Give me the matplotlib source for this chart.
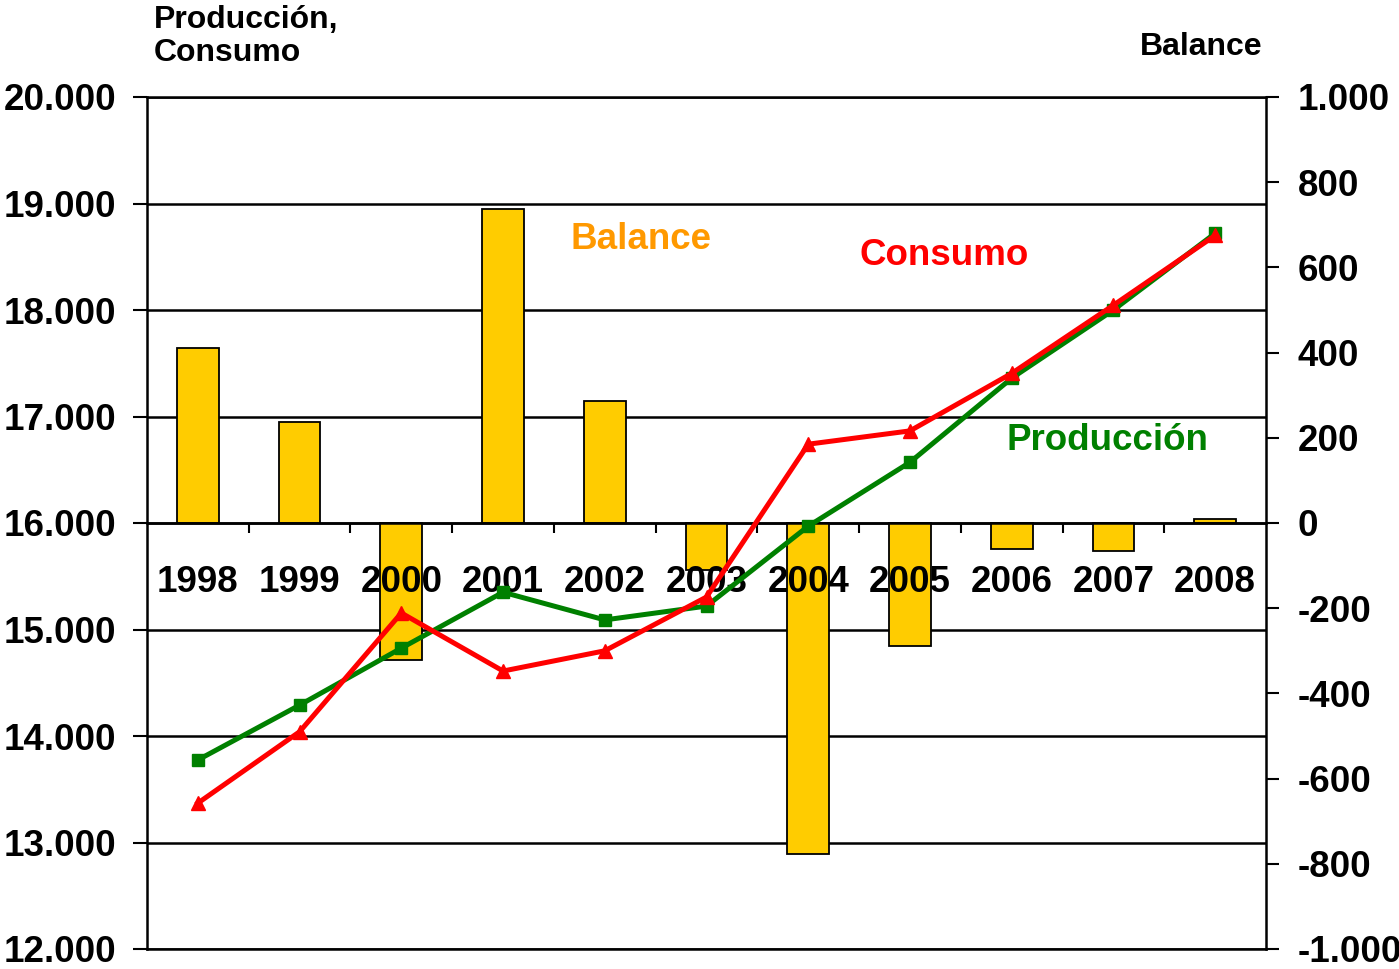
import numpy as np
import matplotlib
matplotlib.use("Agg")
import matplotlib.pyplot as plt
from matplotlib.ticker import FuncFormatter, FixedLocator, NullFormatter

# Data
years = ["1998", "1999", "2000", "2001", "2002", "2003", "2004", "2005", "2006", "2007", "2008"]
produccion = [13775, 14290, 14825, 15350, 15090, 15220, 15970, 16570, 17360, 18000, 18720]
consumo = [13370, 14040, 15155, 14610, 14800, 15305, 16740, 16865, 17405, 18045, 18700]
balance = [410, 237, -322, 737, 286, -110, -777, -289, -61, -66, 9]

plt.rcParams["font.family"] = ["Liberation Sans", "DejaVu Sans"]
plt.rcParams["font.weight"] = "bold"

fig = plt.figure(figsize=(13.99, 9.69), dpi=100)
rect = [147 / 1399, 1 - 949 / 969, (1266 - 147) / 1399, (949 - 97) / 969]
x = np.arange(len(years))
xlim = (-0.5, len(years) - 0.5)


def thousands(v, pos):
    return f"{v:,.0f}".replace(",", ".")


# left axis: Produccion / Consumo scale, with grid
ax = fig.add_axes(rect, zorder=0)
ax.set_xlim(*xlim)
ax.set_ylim(12000, 20000)
ax.set_yticks(np.arange(12000, 20001, 1000))
ax.yaxis.set_major_formatter(FuncFormatter(thousands))
ax.tick_params(axis="y", direction="out", length=10, width=1.5, pad=12, labelsize=26.5)
ax.set_xticks([])
ax.grid(axis="y", color="black", linewidth=1.8)
for s in ax.spines.values():
    s.set_linewidth(1.8)
ax.spines["right"].set_visible(False)

# right axis: Balance bars, category axis sits on the zero line
ax2 = fig.add_axes(rect, zorder=1)
ax2.patch.set_visible(False)
ax2.bar(x, balance, width=0.41, color="#FFCC00", edgecolor="black", linewidth=1.3)
ax2.set_xlim(*xlim)
ax2.set_ylim(-1000, 1000)
ax2.yaxis.tick_right()
ax2.set_yticks(np.arange(-1000, 1001, 200))
ax2.yaxis.set_major_formatter(FuncFormatter(thousands))
ax2.tick_params(axis="y", direction="out", length=9, width=1.5, pad=14, labelsize=26.5)
ax2.spines["right"].set_linewidth(1.8)
ax2.spines["left"].set_visible(False)
ax2.spines["top"].set_visible(False)
ax2.spines["bottom"].set_position(("data", 0))
ax2.spines["bottom"].set_linewidth(1.8)
ax2.set_xticks(x)
ax2.set_xticklabels(years)
ax2.xaxis.set_minor_locator(FixedLocator(x[:-1] + 0.5))
ax2.xaxis.set_minor_formatter(NullFormatter())
ax2.tick_params(axis="x", which="major", length=0, pad=30, labelsize=26.5)
ax2.tick_params(axis="x", which="minor", direction="out", length=7, width=1.5)

# lines on top
ax3 = fig.add_axes(rect, sharex=ax, sharey=ax, zorder=2)
ax3.patch.set_visible(False)
ax3.axis("off")
ax3.plot(x, produccion, color="#008000", linewidth=3.6, marker="s", markersize=9)
ax3.plot(x, consumo, color="#FF0000", linewidth=3.6, marker="^", markersize=10)

ax3.text(4.36, 18660, "Balance", color="#FF9900", fontsize=26.5, fontweight="bold",
         ha="center", va="center")
ax3.text(7.34, 18515, "Consumo", color="#FF0000", fontsize=26.5, fontweight="bold",
         ha="center", va="center")
ax3.text(8.94, 16770, "Producción", color="#008000", fontsize=26.5, fontweight="bold",
         ha="center", va="center")

fig.text(154 / 1399, 1 - 5 / 969, "Producción,\nConsumo", fontsize=23, fontweight="bold",
         ha="left", va="top", linespacing=1.15)
fig.text(1263 / 1399, 1 - 47 / 969, "Balance", fontsize=23, fontweight="bold",
         ha="right", va="center")

fig.savefig("out.png", dpi=100)
